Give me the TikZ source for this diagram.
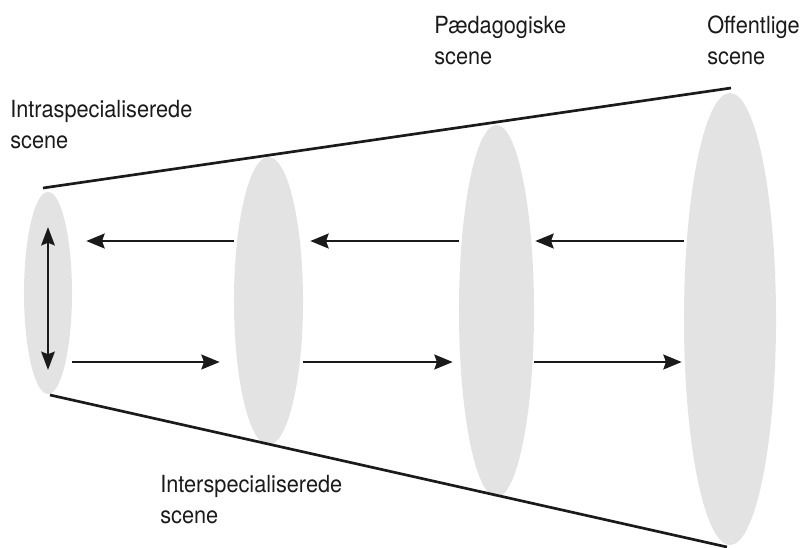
\documentclass[tikz,border=0pt]{standalone}
\usepackage{fontspec}
\setmainfont{TeX Gyre Heros}[FakeStretch=0.92]
\usetikzlibrary{arrows.meta,shapes.geometric}
\definecolor{scenegray}{RGB}{227,227,227}
\definecolor{inkblack}{RGB}{26,26,26}

\tikzset{
  scene/.style={ellipse, fill=scenegray, inner sep=0pt},
  cone/.style={draw=inkblack, line width=1.9pt},
  tip/.style={-{Stealth[length=13pt,width=10.5pt,inset=1.8pt]}},
  flow/.style={draw=inkblack, line width=1.9pt, tip},
  scenetext/.style={anchor=base west, inner sep=0pt, align=left, text=inkblack, font=\fontsize{16.8}{22.4}\selectfont}
}

\begin{document}
\begin{tikzpicture}[x=0.025cm, y=-0.025cm]
    \useasboundingbox (0,0) rectangle (803,547);
    % the four scenes
    \node[scene, minimum width=1.2cm, minimum height=5.05cm] (s1) at (48,293) {};
    \node[scene, minimum width=1.725cm, minimum height=7.2cm] (s2) at (268.5,301) {};
    \node[scene, minimum width=1.875cm, minimum height=9.3cm] (s3) at (496.5,311) {};
    \node[scene, minimum width=2.3cm, minimum height=11.3cm] (s4) at (730,319) {};
    % cone
    \coordinate (ctl) at (43,188);
    \coordinate (ctr) at (731,88);
    \coordinate (cbl) at (50,395);
    \coordinate (cbr) at (727,547);
    \draw[cone] (ctl) -- (ctr);
    \draw[cone] (cbl) -- (cbr);
    % rows of arrows
    \coordinate (up) at (0,241);
    \coordinate (down) at (0,362);
    \draw[flow, shorten >=0.35cm] (s2.west |- up) -- (s1.east |- up);
    \draw[flow, shorten >=0.175cm] (s3.west |- up) -- (s2.east |- up);
    \draw[flow, shorten >=0.025cm] (s4.west |- up) -- (s3.east |- up);
    \draw[flow, shorten >=0.35cm] (s1.east |- down) -- (s2.west |- down);
    \draw[flow, shorten >=0.15cm] (s2.east |- down) -- (s3.west |- down);
    \draw[flow, shorten >=0.05cm] (s3.east |- down) -- (s4.west |- down);
    \coordinate (vt) at (48,227);
    \coordinate (vb) at (48,370);
    \draw[flow, {Stealth[length=13pt,width=9.5pt,inset=1.8pt]}-{Stealth[length=13pt,width=9.5pt,inset=1.8pt]}] (vt) -- (vb);
    % labels
    \node[scenetext] (intra) at (10,148.5) {Intraspecialiserede\\scene};
    \node[scenetext] (inter) at (160,523.5) {Interspecialiserede\\scene};
    \node[scenetext] (paed) at (434,64.5) {Pædagogiske\\scene};
    \node[scenetext] (off) at (707,64.5) {Offentlige\\scene};
\end{tikzpicture}
\end{document}
